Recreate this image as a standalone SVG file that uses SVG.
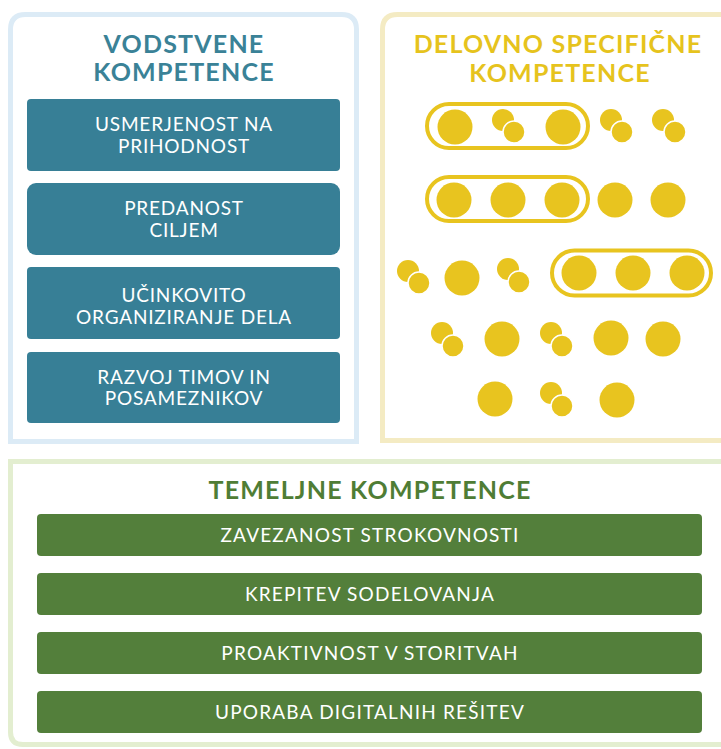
<svg xmlns="http://www.w3.org/2000/svg" width="721" height="749" viewBox="0 0 721 749">
<style>
.title{font-family:Lato,"Liberation Sans",sans-serif;font-weight:bold;text-anchor:middle;font-size:25px;letter-spacing:1.2px}
.t-blue{fill:#3a8297}
.t-yel{fill:#e6c31d}
.t-grn{fill:#4f7d35}
.box-b{fill:#377f96}
.box-g{fill:#537f3b}
.lbl{font-family:Lato,"Liberation Sans",sans-serif;fill:#ffffff;text-anchor:middle;font-size:19px;letter-spacing:0.8px}
.lg{letter-spacing:1.2px}
.big{fill:#e8c41f}
.sm1{fill:#e8c41f}
.sm2{fill:#e8c41f;stroke:#ffffff;stroke-width:1.5}
.cap{fill:none;stroke:#e8c41f;stroke-width:4}
</style>
<rect width="721" height="749" fill="#ffffff"/>

<g id="panel-vodstvene">
<path d="M10.5 441.5 V29.5 Q10.5 14.5 25.5 14.5 H341.5 Q356.5 14.5 356.5 29.5 V441.5 Z" fill="#ffffff" stroke="#dcebf6" stroke-width="5"/>
<text class="title t-blue" x="184" y="53">VODSTVENE</text>
<text class="title t-blue" x="184" y="81">KOMPETENCE</text>
<g id="v1"><rect class="box-b" x="27" y="99" width="313" height="72" rx="4"/>
<text class="lbl" x="184" y="131">USMERJENOST NA</text><text class="lbl" x="184" y="153">PRIHODNOST</text></g>
<g id="v2"><rect class="box-b" x="27" y="183" width="313" height="72" rx="9"/>
<text class="lbl" x="184" y="215">PREDANOST</text><text class="lbl" x="184" y="237">CILJEM</text></g>
<g id="v3"><rect class="box-b" x="27" y="267" width="313" height="72" rx="4"/>
<text class="lbl" x="184" y="302">UČINKOVITO</text><text class="lbl" x="184" y="324">ORGANIZIRANJE DELA</text></g>
<g id="v4"><rect class="box-b" x="27" y="352" width="313" height="71" rx="4"/>
<text class="lbl" x="184" y="384">RAZVOJ TIMOV IN</text><text class="lbl" x="184" y="405">POSAMEZNIKOV</text></g>
</g>

<g id="panel-delovno">
<path d="M382.5 440.5 V29.5 Q382.5 14.5 397.5 14.5 H740 V440.5 Z" fill="#ffffff" stroke="#f4ebc3" stroke-width="5"/>
<text class="title t-yel" x="558" y="53">DELOVNO SPECIFIČNE</text>
<text class="title t-yel" x="560" y="82">KOMPETENCE</text>
<g id="dots">
<rect class="cap" x="427" y="104" width="161" height="44" rx="22"/>
<circle class="big" cx="455" cy="127" r="17.5"/>
<circle class="sm1" cx="503" cy="120" r="11"/><circle class="sm2" cx="514" cy="132" r="11"/>
<circle class="big" cx="563" cy="127" r="17.5"/>
<circle class="sm1" cx="611" cy="120" r="11"/><circle class="sm2" cx="622" cy="132" r="11"/>
<circle class="sm1" cx="663" cy="120" r="11"/><circle class="sm2" cx="675" cy="132" r="11"/>
<rect class="cap" x="427" y="177" width="161" height="44" rx="22"/>
<circle class="big" cx="454" cy="200" r="17.5"/>
<circle class="big" cx="508" cy="200" r="17.5"/>
<circle class="big" cx="562" cy="200" r="17.5"/>
<circle class="big" cx="615" cy="200" r="17.5"/>
<circle class="big" cx="668" cy="200" r="17.5"/>
<circle class="sm1" cx="408" cy="271" r="11"/><circle class="sm2" cx="419" cy="283" r="11"/>
<circle class="big" cx="462" cy="278" r="17.5"/>
<circle class="sm1" cx="508" cy="269" r="11"/><circle class="sm2" cx="519" cy="282" r="11"/>
<rect class="cap" x="552" y="250.5" width="159" height="45" rx="22.5"/>
<circle class="big" cx="579" cy="273" r="17.5"/>
<circle class="big" cx="633" cy="273" r="17.5"/>
<circle class="big" cx="687" cy="273" r="17.5"/>
<circle class="sm1" cx="442" cy="333" r="11"/><circle class="sm2" cx="453" cy="346" r="11"/>
<circle class="big" cx="502" cy="339" r="17.5"/>
<circle class="sm1" cx="551" cy="333" r="11"/><circle class="sm2" cx="562" cy="346" r="11"/>
<circle class="big" cx="611" cy="338" r="17.5"/>
<circle class="big" cx="663" cy="339" r="17.5"/>
<circle class="big" cx="495" cy="399" r="17.5"/>
<circle class="sm1" cx="551" cy="393" r="11"/><circle class="sm2" cx="562" cy="406" r="11"/>
<circle class="big" cx="617" cy="400" r="17.5"/>
</g>
</g>

<g id="panel-temeljne">
<path d="M740 461.5 H10.5 V732 Q10.5 744.5 23 744.5 H740" fill="#ffffff" stroke="#e3eed0" stroke-width="5"/>
<text class="title t-grn" x="370" y="499">TEMELJNE KOMPETENCE</text>
<g id="g1"><rect class="box-g" x="37" y="514" width="665" height="42" rx="4"/>
<text class="lbl lg" x="370" y="542">ZAVEZANOST STROKOVNOSTI</text></g>
<g id="g2"><rect class="box-g" x="37" y="573" width="665" height="42" rx="4"/>
<text class="lbl lg" x="370" y="601">KREPITEV SODELOVANJA</text></g>
<g id="g3"><rect class="box-g" x="37" y="632" width="665" height="42" rx="4"/>
<text class="lbl lg" x="370" y="660">PROAKTIVNOST V STORITVAH</text></g>
<g id="g4"><rect class="box-g" x="37" y="691" width="665" height="42" rx="4"/>
<text class="lbl lg" x="370" y="719">UPORABA DIGITALNIH REŠITEV</text></g>
</g>

<g id="connectors"></g>
</svg>
